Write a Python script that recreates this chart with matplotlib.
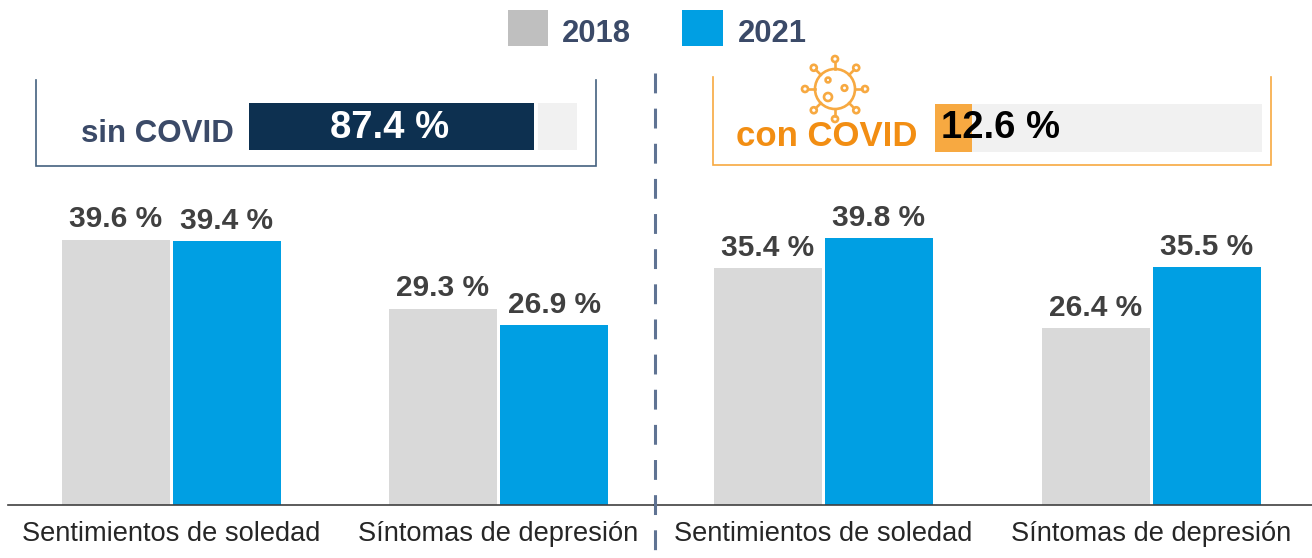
import matplotlib
matplotlib.use("Agg")
import matplotlib.pyplot as plt
from matplotlib.patches import Rectangle, Circle
import math

plt.rcParams['font.family'] = ['Liberation Sans', 'DejaVu Sans']

categories = ["Sentimientos de soledad", "Síntomas de depresión"]
years = ["2018", "2021"]
sin_2018 = [39.6, 29.3]
sin_2021 = [39.4, 26.9]
con_2018 = [35.4, 26.4]
con_2021 = [39.8, 35.5]
share_sin = 87.4
share_con = 12.6
label_sin = "sin COVID"
label_con = "con COVID"

W, H = 1312, 558
GREY, BLUE = "#d9d9d9", "#009fe3"
NAVY, ORANGE, ORANGE_TXT = "#0d3050", "#f7a941", "#f28e13"
TXT = "#404040"
TITLE = "#3b4a68"
BOX = "#44617f"
TRACK = "#f1f1f1"

fig = plt.figure(figsize=(W / 100, H / 100), dpi=100, facecolor="white")


def px_axes(x0, y0, x1, y1, **kw):
    return fig.add_axes([x0 / W, 1 - y1 / H, (x1 - x0) / W, (y1 - y0) / H], **kw)


# overlay in pixel coordinates for decoration
ov = px_axes(0, 0, W, H)
ov.set_xlim(0, W)
ov.set_ylim(H, 0)
ov.axis("off")
ov.set_zorder(5)
ov.patch.set_alpha(0)


def panel(x0, x1, first, unit, s18, s21):
    ax = px_axes(x0, 180, x1, 505)
    ax.patch.set_alpha(0)
    ax.set_xlim((x0 - first) / unit, (x1 - first) / unit)
    ax.set_ylim(0, 325 / 6.7)
    w = 108 / unit
    off = 55.5 / unit
    xs = list(range(len(categories)))
    b1 = ax.bar([x - off for x in xs], s18, width=w, color=GREY)
    b2 = ax.bar([x + off for x in xs], s21, width=w, color=BLUE)
    for bars, vals in ((b1, s18), (b2, s21)):
        for r, v in zip(bars, vals):
            ax.annotate(f"{v} %", (r.get_x() + r.get_width() / 2, v), xytext=(0, 4.5),
                        textcoords="offset points", ha="center", va="bottom",
                        fontsize=21.5, fontweight="bold", color=TXT)
    ax.set_xticks(xs, categories)
    ax.tick_params(axis="x", length=0, pad=11.5, labelsize=19.6, labelcolor="#262626")
    ax.set_yticks([])
    for s in ("top", "left", "right"):
        ax.spines[s].set_visible(False)
    ax.spines["bottom"].set_color("#404040")
    ax.spines["bottom"].set_linewidth(1.2)
    return ax


panel(8, 654, 171.5, 327, sin_2018, sin_2021)
panel(654, W, 823.5, 327.5, con_2018, con_2021)

# legend
for x0, x1, c, y, tx in ((508, 548, "#bfbfbf", years[0], 562), (682, 723, BLUE, years[1], 738)):
    ov.add_patch(Rectangle((x0, 10), x1 - x0, 36, fc=c, ec="none"))
    ov.text(tx, 34.5, y, fontsize=22.3, fontweight="bold", color=TITLE, ha="left", va="center")

# boxes
ov.plot([36, 36, 596, 596], [80, 165.5, 165.5, 80], color=BOX, lw=1.2, solid_joinstyle="miter")
ov.plot([712.5, 712.5, 1271, 1271], [77, 164.5, 164.5, 77], color=ORANGE, lw=1.2, solid_joinstyle="miter")

# share bars
a = px_axes(249, 103, 577, 150)
a.set_xlim(0, 100.6)
a.set_ylim(0, 1)
a.axis("off")
a.barh(0.5, share_sin, height=1, left=0, color=NAVY)
a.barh(0.5, 100.6 - share_sin, height=1, left=share_sin, color=TRACK, ec="white", lw=0)
a.axvline(share_sin + 0.6, color="white", lw=2.8)
a.text(43, 0.47, f"{share_sin} %", color="white", fontsize=27.5, fontweight="bold", ha="center", va="center")

b = px_axes(935, 104, 1262, 152)
b.set_xlim(0, 111.4)
b.set_ylim(0, 1)
b.axis("off")
b.barh(0.5, 111.4, height=1, color=TRACK)
b.barh(0.5, share_con, height=1, color=ORANGE)
b.text(22.4, 0.5, f"{share_con} %", color="black", fontsize=27.5, fontweight="bold", ha="center", va="center")

ov.text(81, 134, label_sin, fontsize=22.5, fontweight="bold", color=TITLE, ha="left", va="center")
ov.text(736, 137, label_con, fontsize=25, fontweight="bold", color=ORANGE_TXT, ha="left", va="center")

# virus icon
cx, cy = 835, 89
lw = 1.9
ov.add_patch(Circle((cx, cy), 20, fc="none", ec=ORANGE, lw=lw))
for k in range(8):
    t = k * math.pi / 4
    ca, sa = math.cos(t), math.sin(t)
    ov.plot([cx + 20 * ca, cx + 27 * ca], [cy + 20 * sa, cy + 27 * sa], color=ORANGE, lw=lw)
    ov.add_patch(Circle((cx + 30 * ca, cy + 30 * sa), 3, fc="none", ec=ORANGE, lw=lw))
for dx, dy, r in ((-7, -9, 2.4), (9.5, -1, 2.8), (-7, 8, 4)):
    ov.add_patch(Circle((cx + dx, cy + dy), r, fc="none", ec=ORANGE, lw=lw))

# divider
ov.plot([654.5, 654.5], [73, H], color="#5f7393", lw=2.2, dashes=(6.5, 5))

fig.savefig("out.png", dpi=100, facecolor="white")
